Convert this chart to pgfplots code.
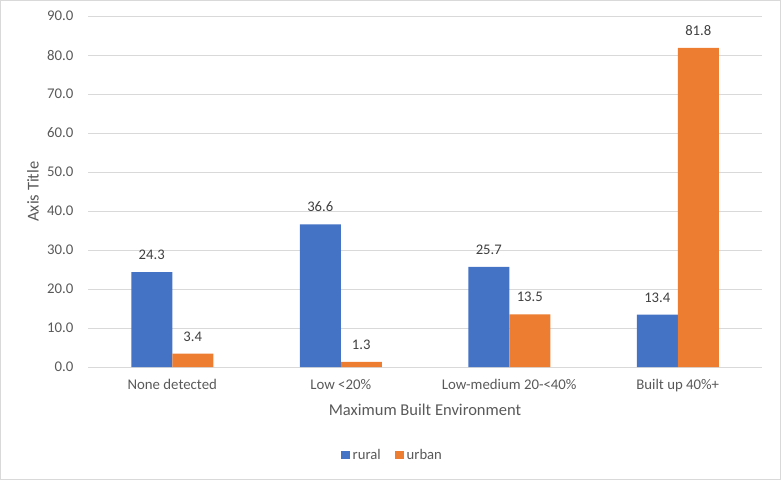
\documentclass[border=0pt]{standalone}
\usepackage{pgfplots}
\pgfplotsset{compat=1.18}
\usepackage{fontspec}
\setmainfont{Carlito}
\definecolor{rural}{HTML}{4472C4}
\definecolor{urban}{HTML}{ED7D31}
\definecolor{gridc}{HTML}{D9D9D9}
\definecolor{txt}{HTML}{595959}
\definecolor{lbl}{HTML}{404040}
\begin{document}
\begin{tikzpicture}
\draw[gridc, line width=0.75pt] (0.375pt,0.375pt) rectangle (585.375pt,359.625pt);
\begin{axis}[
    at={(66pt,84.75pt)}, anchor=south west, scale only axis,
    width=505.5pt, height=263.25pt,
    ybar=0pt, bar width=30.75pt,
    xmin=-0.5, xmax=3.5, ymin=0, ymax=90,
    xtick={0,1,2,3},
    xticklabels={None detected, Low <20\%, Low-medium 20-<40\%, Built up 40\%+},
    ytick={0,10,...,90},
    yticklabel style={xshift=-7.5pt, /pgf/number format/.cd, fixed, fixed zerofill, precision=1, assume math mode=true},
    ticklabel style={font=\fontsize{11.1}{13}\selectfont, text=txt},
    major tick length=0pt,
    xticklabel style={yshift=-5.5pt},
    axis x line*=bottom, axis y line*=left,
    y axis line style={draw=none},
    x axis line style={gridc, line width=0.75pt, -},
    ymajorgrids, grid style={gridc, line width=0.75pt},
    xlabel={Maximum Built Environment},
    ylabel={Axis Title},
    label style={font=\fontsize{12.4}{14}\selectfont, text=txt},
    xlabel style={at={(axis description cs:0.5,-0.1225)}, anchor=center},
    ylabel style={at={(axis description cs:-0.0816,0.5)}, anchor=center},
    clip=false,
    nodes near coords={\pgfmathprintnumber[fixed,fixed zerofill,precision=1,assume math mode=true]{\pgfplotspointmeta}},
    every node near coord/.append style={font=\fontsize{11}{13}\selectfont, text=lbl, anchor=south, inner sep=0pt, yshift=9pt},
    legend style={at={(axis description cs:0.4525,-0.2507)}, anchor=center, draw=none, fill=none,
        font=\fontsize{11}{13}\selectfont, text=txt,
        /tikz/every even column/.append style={column sep=9pt}},
    legend columns=-1,
    legend image code/.code={\path[#1, draw=none] (0pt,-3.2pt) rectangle (6.5pt,3.2pt);},
]
\addplot[fill=rural, draw=none] coordinates {(0,24.3) (1,36.6) (2,25.7) (3,13.4)};
\addplot[fill=urban, draw=none] coordinates {(0,3.4) (1,1.3) (2,13.5) (3,81.8)};
\legend{rural, urban}
\end{axis}
\end{tikzpicture}
\end{document}
